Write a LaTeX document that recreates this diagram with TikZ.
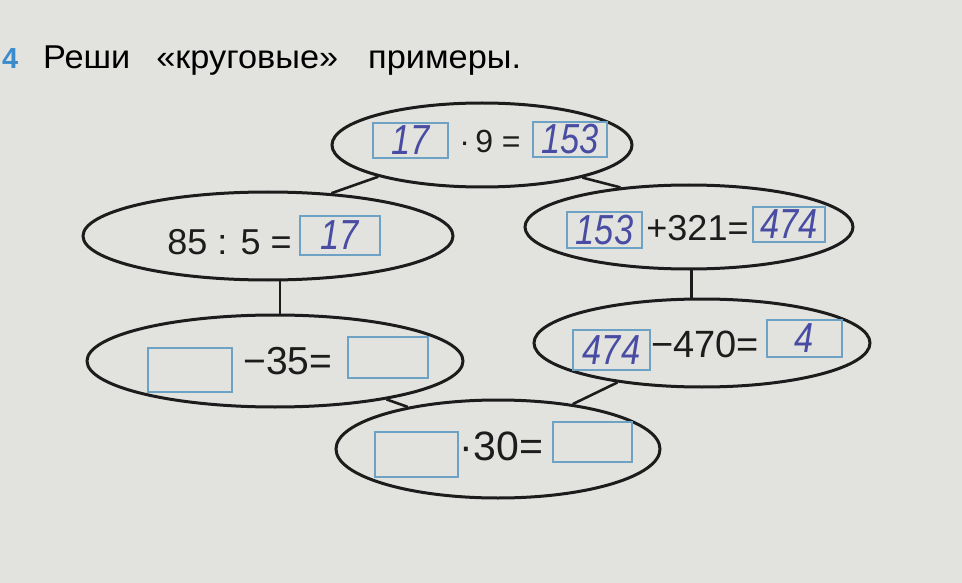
\documentclass[tikz,border=0pt]{standalone}
\usepackage{fontspec}
\setmainfont{Liberation Sans}
\newfontfamily\hand[FakeStretch=0.82]{Liberation Sans}
\newfontfamily\headfont[FakeStretch=1.04]{Liberation Sans}
\usetikzlibrary{shapes.geometric}
\definecolor{paper}{RGB}{226,226,223}
\definecolor{cellblue}{RGB}{110,162,196}
\definecolor{ink}{RGB}{72,76,162}
\definecolor{numblue}{RGB}{58,140,205}
\definecolor{outline}{RGB}{28,28,28}

\begin{document}
\begin{tikzpicture}[x=1pt, y=-1pt,
  oval/.style={draw=outline, ellipse, line width=3pt, inner sep=0pt},
  cell/.style={draw=cellblue, line width=1.8pt, inner sep=0pt, text=ink,
    font=\hand\fontsize{42}{42}\selectfont\itshape},
  sign/.style={inner sep=0pt, text=outline, font=\fontsize{#1}{#1}\selectfont},
  link/.style={draw=outline, line width=2.6pt}]
  \useasboundingbox[fill=paper] (0,0) rectangle (962,583);
  \node[anchor=base west, inner sep=0pt, text=numblue, font=\fontsize{29}{29}\selectfont\bfseries] (num) at (2,69) {4};
  \node[anchor=base west, inner sep=0pt, font=\headfont\fontsize{33}{33}\selectfont] (title) at (43,69)
    {Реши\hspace{26pt}«круговые»\hspace{30pt}примеры.};

  \node[oval, minimum width=300pt, minimum height=84pt] (top) at (482,145) {};
  \node[oval, minimum width=370pt, minimum height=88pt] (lu) at (268,236) {};
  \node[oval, minimum width=328pt, minimum height=84pt] (ru) at (689,227) {};
  \node[oval, minimum width=376pt, minimum height=92pt] (ll) at (275,361) {};
  \node[oval, minimum width=336pt, minimum height=88pt] (rl) at (702,343) {};
  \node[oval, minimum width=324pt, minimum height=98pt] (bot) at (498,449) {};

  \draw[link] (top.197) -- (lu.34);
  \draw[link] (top.342) -- (ru.150);
  \draw[link] (lu.285) -- (lu.285 |- ll.north);
  \draw[link] (ru.273) -- (ru.273 |- rl.north);
  \draw[link] (ll.341) -- (bot.155);
  \draw[link] (rl.205) -- (bot.31);

  \node[cell, minimum width=75pt, minimum height=35pt] (top-a) at (410.5,140.5) {17};
  \node[sign=32] (top-op) at (490,141) {·\,9 =};
  \node[cell, minimum width=74pt, minimum height=35pt] (top-b) at (570,139.5) {153};

  \node[sign=36] (lu-op) at (229.5,242) {85 : 5 =};
  \node[cell, minimum width=80pt, minimum height=39pt] (lu-b) at (340,235.5) {17};

  \node[cell, minimum width=75pt, minimum height=36pt] (ru-a) at (604.5,230) {153};
  \node[sign=36] (ru-op) at (697.5,228) {+321=};
  \node[cell, minimum width=72pt, minimum height=35pt] (ru-b) at (789,224.5) {474};

  \node[cell, minimum width=84pt, minimum height=44pt] (ll-a) at (190,370) {};
  \node[sign=39] (ll-op) at (288,361) {−35=};
  \node[cell, minimum width=80pt, minimum height=41pt] (ll-b) at (388,357.5) {};

  \node[cell, minimum width=77pt, minimum height=40pt] (rl-a) at (611.5,350) {474};
  \node[sign=38] (rl-op) at (705,344) {−470=};
  \node[cell, minimum width=75pt, minimum height=37pt] (rl-b) at (804.5,338.5) {4};

  \node[cell, minimum width=83pt, minimum height=45pt] (bot-a) at (416.5,454.5) {};
  \node[sign=41] (bot-op) at (501.5,446) {·30=};
  \node[cell, minimum width=79pt, minimum height=40pt] (bot-b) at (592.5,442) {};
\end{tikzpicture}
\end{document}
